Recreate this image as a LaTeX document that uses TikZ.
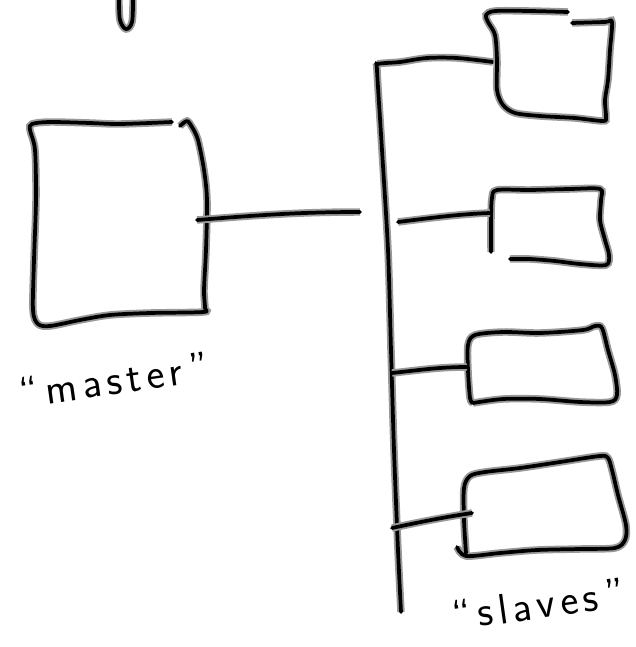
\documentclass[tikz,border=0pt]{standalone}
\usepackage{fontspec}
\usepackage{tikz}
\newfontfamily\handfont[LetterSpace=12]{Latin Modern Sans}

\begin{document}
\begin{tikzpicture}[x=0.75pt,y=-0.75pt,font=\sffamily]

\tikzstyle{pen}=[line width=2.8pt,line cap=round,line join=round,
    preaction={draw=black!40,line width=5.6pt}]
\tikzstyle{hand}=[font=\handfont\fontsize{32}{32}\selectfont,inner sep=0pt]

\useasboundingbox (0,0) rectangle (636,647);

% stray mark at the top
\draw[pen] plot[smooth,tension=0.6] coordinates {(119,0) (120,20) (126,29) (132,22) (133,0)};

% master box
\draw[pen] plot[smooth,tension=0.5] coordinates {(172,122) (120,124) (90,123) (50,122) (32,124)
    (30,130) (35,150) (36,200) (34,260) (33,310) (38,324) (50,326) (80,320) (110,315)
    (150,313) (203,312) (205,308) (204,290) (206,250) (207,200) (204,170) (198,140)
    (192,127) (187,121) (180,126)};
\coordinate (M) at (197,220);
\coordinate (Mend) at (360,212);

% bus
\draw[pen] plot[smooth,tension=0.5] coordinates {(493,62) (457,58) (427,58) (400,62) (378,64)
    (377,70) (382,150) (388,250) (391,350) (394,450) (398,550) (401,612)};
\coordinate (B2) at (398,222);
\coordinate (B3) at (392,373);
\coordinate (B4) at (392,528);

% slaves
\draw[pen] plot[smooth,tension=0.5] coordinates {(568,12) (530,11) (495,11) (486,15) (488,22)
    (495,35) (497,60) (497,90) (503,105) (515,113) (540,116) (575,118) (603,121) (606,117)
    (605,100) (608,80) (610,50) (612,22) (605,22) (572,23)};
\draw[pen] plot[smooth,tension=0.5] coordinates {(491,252) (491,220) (492,198) (497,190)
    (530,190) (570,189) (600,189) (601,200) (600,220) (605,240) (609,255) (606,265)
    (580,264) (555,261) (530,259) (510,259)};
\draw[pen] plot[smooth,tension=0.5] coordinates {(473,403) (503,399) (540,399) (580,402)
    (610,402) (617,395) (615,375) (608,350) (602,328) (595,326) (583,330) (540,333)
    (503,332) (475,335) (468,345) (468,370) (470,398) (473,403)};
\draw[pen] plot[smooth,tension=0.5] coordinates {(457,547) (466,556) (500,553) (537,550)
    (580,549) (615,548) (625,540) (626,525) (618,495) (612,470) (608,458) (600,456)
    (560,462) (520,468) (485,472) (470,476) (464,488) (464,520) (466,553)};
\coordinate (S2) at (490,213);
\coordinate (S3) at (467,367);
\coordinate (S4) at (472,513);

% connectors
\draw[pen] (M) .. controls (260,215) and (300,212) .. (Mend);
\draw[pen] (B2) .. controls (430,218) and (460,214) .. (S2);
\draw[pen] (B3) .. controls (420,370) and (440,367) .. (S3);
\draw[pen] (B4) .. controls (420,522) and (445,517) .. (S4);

% labels
\node[hand,rotate=8] (master) at (114,380) {“\,master\,”};
\node[hand,rotate=8] (slaves) at (538,604) {“\,slaves\,”};
\end{tikzpicture}
\end{document}
